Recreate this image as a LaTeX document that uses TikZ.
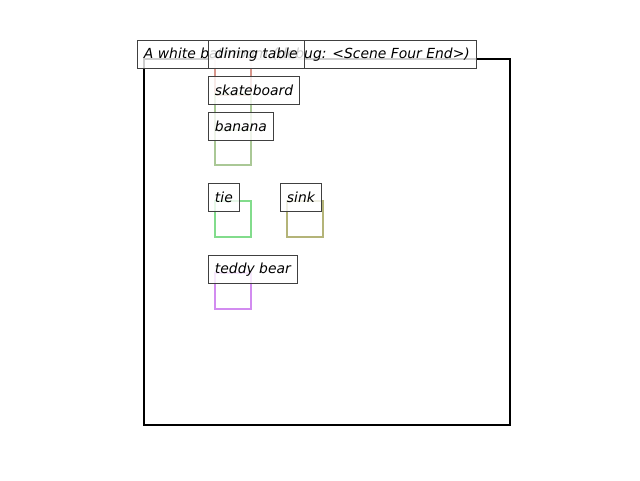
\documentclass[tikz,border=0pt]{standalone}
\usepackage{fontspec}
\setmainfont{DejaVu Sans}
\begin{document}
\begin{tikzpicture}[x=1pt,y=-1pt,
  lbl/.style={draw=black!75,line width=0.9pt,fill=white,fill opacity=0.8,text opacity=1,
    anchor=north west,inner xsep=6.5pt,inner ysep=0pt,minimum height=28pt,
    font=\fontsize{13.9}{16}\selectfont\itshape},
  obox/.style={draw=#1,line width=2pt,anchor=north west,inner sep=0pt,minimum width=36pt,minimum height=36pt},
  frame/.style={draw=black,line width=2pt}]
\useasboundingbox (0,0) rectangle (640,480);
\node[frame,anchor=north west,inner sep=0pt,minimum width=366pt,minimum height=366pt] (ax) at (143,58) {};
\definecolor{cred}{RGB}{215,150,140}
\definecolor{cgreen}{RGB}{170,200,150}
\definecolor{ctie}{RGB}{130,220,140}
\definecolor{csink}{RGB}{180,180,120}
\definecolor{cteddy}{RGB}{210,140,240}
\node[obox=cred] (b1) at (214,58) {};
\node[obox=cgreen] (b2) at (214,93) {};
\node[obox=cgreen,minimum height=35pt] (b3) at (214,129) {};
\node[obox=ctie] (b4) at (214,200) {};
\node[obox=csink] (b5) at (286,200) {};
\node[obox=cteddy] (b6) at (214,272) {};
\node[lbl] (title) at (137,40) {A white bathroom (debug: <Scene Four End>)};
\node[lbl] (l1) at (208,40) {dining table};
\node[lbl] (l2) at (208,76) {skateboard};
\node[lbl] (l3) at (208,112) {banana};
\node[lbl] (l4) at (208,183) {tie};
\node[lbl] (l5) at (280,183) {sink};
\node[lbl] (l6) at (208,255) {teddy bear};
\end{tikzpicture}
\end{document}
